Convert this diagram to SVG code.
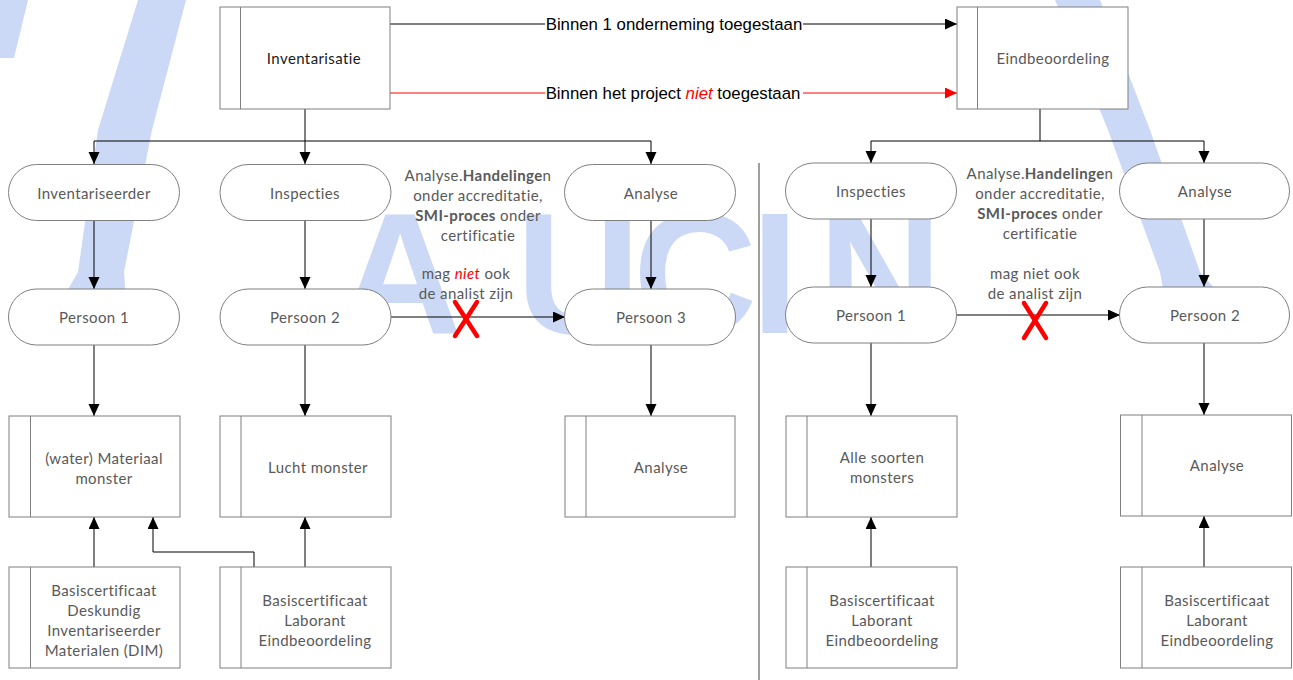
<svg xmlns="http://www.w3.org/2000/svg" width="1293" height="680" viewBox="0 0 1293 680">
<style>
.wm{fill:#cbd9f6;stroke:none}
.wmt{fill:#cbd9f6;font-family:"Liberation Sans",Arial,sans-serif;font-weight:bold;font-size:172px;text-anchor:middle}
.box{fill:#fff;stroke:#7f7f7f;stroke-width:1}
.t{font-family:Lato,"Noto Sans",sans-serif;font-size:15px;letter-spacing:0.4px;fill:#595959;text-anchor:middle;dominant-baseline:central}
.tb{fill:#1a1a1a}
.lbl{font-family:"Liberation Sans",Arial,sans-serif;font-size:16.8px;fill:#000;text-anchor:middle;dominant-baseline:central}
.c{fill:none;stroke:#000;stroke-width:1}
.ca{fill:none;stroke:#000;stroke-width:1;marker-end:url(#ah)}
.cr{fill:none;stroke:#ff0000;stroke-width:1;marker-end:url(#ahr)}
.x{stroke:#ff0000;stroke-width:4.5;stroke-linecap:round}
.b{font-weight:bold}
</style>
<defs>
<marker id="ah" markerUnits="userSpaceOnUse" markerWidth="12" markerHeight="12" refX="12" refY="5.5" orient="auto"><path d="M0,0 L12,5.5 L0,11 z" fill="#000"/></marker>
<marker id="ahr" markerUnits="userSpaceOnUse" markerWidth="12" markerHeight="12" refX="12" refY="5.5" orient="auto"><path d="M0,0 L12,5.5 L0,11 z" fill="#ff0000"/></marker>
</defs>
<rect width="1293" height="680" fill="#fff"/>
<g id="watermark">
<polygon class="wm" points="0,0 28,0 14,58 0,58"/>
<polygon class="wm" points="138,0 186,0 152,130 124,272 126,300 62,300 78,272 98,130"/>
<polygon class="wm" points="1055,0 1100,0 1150,130 1200,272 1225,300 1165,300 1160,272 1108,130"/>
<text class="wmt" x="400" y="333">A</text>
<text class="wmt" x="578" y="333">U</text>
<text class="wmt" x="695" y="333">C</text>
<text class="wmt" x="775" y="333">I</text>
<text class="wmt" x="880" y="333">N</text>
</g>
<line x1="759" y1="163" x2="759" y2="680" stroke="#7f7f7f" stroke-width="1.5"/>
<g id="connectors">
<path class="c" d="M390,24 H957"/>
<path class="cr" d="M390,93 H957"/>
<path class="ca" d="M957,24 H957"/>
<path class="ca" d="M305,109 V141 H305 V164"/>
<path class="c" d="M94,141 H651"/>
<path class="ca" d="M94,141 V164"/>
<path class="ca" d="M651,141 V164"/>
<path class="c" d="M1040,109 V141"/>
<path class="c" d="M871,141 H1204"/>
<path class="ca" d="M871,141 V163"/>
<path class="ca" d="M1204,141 V163"/>
<path class="ca" d="M94,221 V289"/>
<path class="ca" d="M305,221 V289"/>
<path class="ca" d="M651,221 V289"/>
<path class="ca" d="M871,219 V287"/>
<path class="ca" d="M1204,219 V287"/>
<path class="ca" d="M94,345 V416"/>
<path class="ca" d="M305,345 V416"/>
<path class="ca" d="M651,345 V416"/>
<path class="ca" d="M871,343 V416"/>
<path class="ca" d="M1204,343 V415"/>
<path class="ca" d="M390,317 H565"/>
<path class="ca" d="M957,315 H1120"/>
<path class="ca" d="M94,567 V517"/>
<path class="ca" d="M254,567 V552 H153 V517"/>
<path class="ca" d="M305,567 V517"/>
<path class="ca" d="M871,567 V517"/>
<path class="ca" d="M1204,567 V516"/>
<line class="x" x1="455" y1="302" x2="477" y2="336"/>
<line class="x" x1="477" y1="302" x2="455" y2="336"/>
<line class="x" x1="1024" y1="303" x2="1046" y2="338"/>
<line class="x" x1="1046" y1="303" x2="1024" y2="338"/>
</g>
<g id="edge-labels">
<rect x="545" y="14" width="258" height="20" fill="#fff"/>
<text class="lbl" x="674" y="24">Binnen 1 onderneming toegestaan</text>
<rect x="545" y="83" width="258" height="20" fill="#fff"/>
<text class="lbl" x="673" y="93">Binnen het project <tspan fill="#ff0000" font-style="italic">niet</tspan> toegestaan</text>
</g>
<g id="n-inventarisatie"><rect class="box" x="220" y="7" width="170" height="102"/><line class="box" x1="240.5" y1="7" x2="240.5" y2="109"/><text class="t tb" x="314" y="58">Inventarisatie</text></g>
<g id="n-eindbeoordeling"><rect class="box" x="957" y="7" width="171" height="102"/><line class="box" x1="977.5" y1="7" x2="977.5" y2="109"/><text class="t" x="1053" y="58">Eindbeoordeling</text></g>
<g id="n-inventariseerder"><rect class="box" x="8.5" y="164.5" width="171" height="56" rx="28"/><text class="t" x="94" y="193">Inventariseerder</text></g>
<g id="n-inspecties-l"><rect class="box" x="220" y="164.5" width="171" height="56" rx="28"/><text class="t" x="305" y="193">Inspecties</text></g>
<g id="n-analyse-l"><rect class="box" x="564.5" y="164.5" width="171" height="56" rx="28"/><text class="t" x="651" y="193">Analyse</text></g>
<g id="n-persoon1-l"><rect class="box" x="8.5" y="289" width="171" height="56" rx="28"/><text class="t" x="94" y="317">Persoon 1</text></g>
<g id="n-persoon2-l"><rect class="box" x="220" y="289" width="171" height="56" rx="28"/><text class="t" x="305" y="317">Persoon 2</text></g>
<g id="n-persoon3"><rect class="box" x="564.5" y="289" width="171" height="56" rx="28"/><text class="t" x="651" y="317">Persoon 3</text></g>
<g id="n-inspecties-r"><rect class="box" x="785.5" y="163" width="171" height="56" rx="28"/><text class="t" x="871" y="191">Inspecties</text></g>
<g id="n-analyse-r"><rect class="box" x="1119.5" y="163" width="170" height="56" rx="28"/><text class="t" x="1205" y="191">Analyse</text></g>
<g id="n-persoon1-r"><rect class="box" x="785.5" y="287" width="171" height="56" rx="28"/><text class="t" x="871" y="315">Persoon 1</text></g>
<g id="n-persoon2-r"><rect class="box" x="1119.5" y="287" width="170" height="56" rx="28"/><text class="t" x="1205" y="315">Persoon 2</text></g>
<g id="n-materiaal"><rect class="box" x="9" y="416" width="171" height="101"/><line class="box" x1="30.5" y1="416" x2="30.5" y2="517"/><text class="t" x="104" y="458">(water) Materiaal</text><text class="t" x="104" y="478">monster</text></g>
<g id="n-lucht"><rect class="box" x="220" y="416" width="171" height="101"/><line class="box" x1="241" y1="416" x2="241" y2="517"/><text class="t" x="318" y="467">Lucht monster</text></g>
<g id="n-analyse-box-l"><rect class="box" x="565" y="416" width="170" height="101"/><line class="box" x1="586" y1="416" x2="586" y2="517"/><text class="t" x="661" y="467">Analyse</text></g>
<g id="n-dim"><rect class="box" x="9" y="567" width="171" height="101"/><line class="box" x1="30.5" y1="567" x2="30.5" y2="668"/><text class="t" x="104" y="590">Basiscertificaat</text><text class="t" x="104" y="610">Deskundig</text><text class="t" x="104" y="630">Inventariseerder</text><text class="t" x="104" y="650">Materialen (DIM)</text></g>
<g id="n-laborant-l"><rect class="box" x="220" y="567" width="171" height="101"/><line class="box" x1="241" y1="567" x2="241" y2="668"/><text class="t" x="315" y="600">Basiscertificaat</text><text class="t" x="315" y="620">Laborant</text><text class="t" x="315" y="640">Eindbeoordeling</text></g>
<g id="n-alle"><rect class="box" x="786" y="416" width="171" height="101"/><line class="box" x1="807" y1="416" x2="807" y2="517"/><text class="t" x="882" y="457">Alle soorten</text><text class="t" x="882" y="477">monsters</text></g>
<g id="n-analyse-box-r"><rect class="box" x="1120.5" y="415" width="171" height="101"/><line class="box" x1="1142" y1="415" x2="1142" y2="516"/><text class="t" x="1217" y="465">Analyse</text></g>
<g id="n-laborant-r1"><rect class="box" x="786" y="567" width="171" height="101"/><line class="box" x1="807" y1="567" x2="807" y2="668"/><text class="t" x="882" y="600">Basiscertificaat</text><text class="t" x="882" y="620">Laborant</text><text class="t" x="882" y="640">Eindbeoordeling</text></g>
<g id="n-laborant-r2"><rect class="box" x="1120.5" y="567" width="171" height="101"/><line class="box" x1="1142" y1="567" x2="1142" y2="668"/><text class="t" x="1217" y="600">Basiscertificaat</text><text class="t" x="1217" y="620">Laborant</text><text class="t" x="1217" y="640">Eindbeoordeling</text></g>
<g id="note-left">
<text class="t" x="478" y="175">Analyse.<tspan class="b">Handelinge</tspan>n</text>
<text class="t" x="478" y="195">onder accreditatie,</text>
<text class="t" x="478" y="215"><tspan class="b">SMI-proces</tspan> onder</text>
<text class="t" x="478" y="235">certificatie</text>
<text class="t" x="466" y="273">mag <tspan fill="#ff0000" font-style="italic">niet</tspan> ook</text>
<text class="t" x="466" y="293">de analist zijn</text>
</g>
<g id="note-right">
<text class="t" x="1040" y="173">Analyse.<tspan class="b">Handelinge</tspan>n</text>
<text class="t" x="1040" y="193">onder accreditatie,</text>
<text class="t" x="1040" y="213"><tspan class="b">SMI-proces</tspan> onder</text>
<text class="t" x="1040" y="233">certificatie</text>
<text class="t" x="1035" y="273">mag niet ook</text>
<text class="t" x="1035" y="293">de analist zijn</text>
</g>
</svg>
